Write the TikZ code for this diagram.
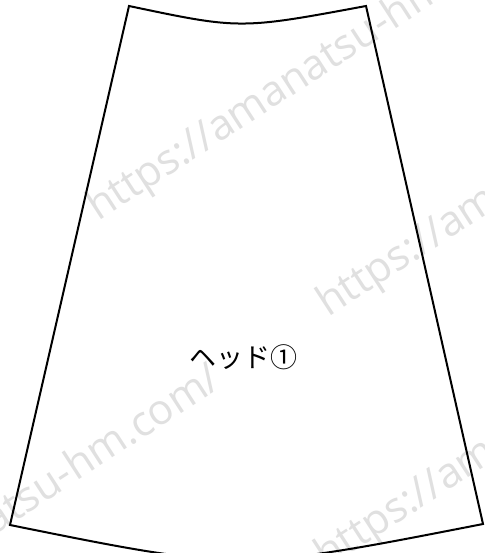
\documentclass[tikz,border=0pt]{standalone}
\usepackage{fontspec}
\newfontfamily\jpfont{Noto Sans CJK JP}
\newfontfamily\wmfont{Open Sans}
\begin{document}
\begin{tikzpicture}[x=1pt,y=-1pt,
  piece/.style={line width=2pt, line join=miter},
  wm/.style={anchor=base west, rotate=33, text=black!12, font=\wmfont\fontsize{42}{42}\selectfont, inner sep=0pt},
  label/.style={font=\jpfont\fontsize{27}{27}\selectfont, inner sep=0pt}]
\useasboundingbox (0,0) rectangle (484,553);
\fill[white] (0,0) rectangle (484,553);
\begin{scope}
\clip (0,0) rectangle (484,553);
\node[wm] (w1) at (98,222) {https://amanatsu-hm.com/};
\node[wm] (w2) at (328,318) {https://amanatsu-hm.com/};
\node[wm] (w3) at (326,570) {https://amanatsu-hm.com/};
\node[wm, anchor=base east] (w4) at (224,386) {https://amanatsu-hm.com/};
\end{scope}
\coordinate (tl) at (129,6);
\coordinate (tr) at (366,6);
\coordinate (bl) at (10,525);
\coordinate (br) at (483,524);
\draw[piece] (tl) .. controls (240,29.4) .. (tr) -- (br) .. controls (240,571.5) .. (bl) -- cycle;
\node[label] (name) at (243,357) {ヘッド①};
\end{tikzpicture}
\end{document}
